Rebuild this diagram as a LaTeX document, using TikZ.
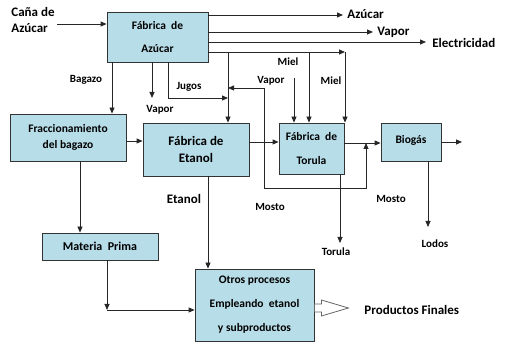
\documentclass[tikz,border=0pt]{standalone}
\usepackage{fontspec}
\setmainfont{Carlito}
\usetikzlibrary{arrows.meta,positioning,calc}
\definecolor{boxblue}{HTML}{B7DDE8}
\tikzset{
  procbox/.style={draw=black!80,fill=boxblue,line width=0.8pt,inner sep=0pt,align=center},
  boxtext/.style={font=\bfseries\fontsize{11.5}{#1}\selectfont},
  flowlabel/.style={font=\bfseries\fontsize{11}{13}\selectfont,inner sep=0pt},
  biglabel/.style={font=\bfseries\fontsize{13}{16}\selectfont,inner sep=0pt},
  hollowarrow/.style={draw=black!60,fill=white,line width=0.8pt},
}

\begin{document}
\begin{tikzpicture}[x=1pt,y=-1pt,->,>={Triangle[length=6pt,width=5pt]},line width=0.8pt,draw=black!85]

\useasboundingbox (0,0) rectangle (509,347);

% process boxes
\node[procbox,boxtext=23,minimum width=101pt,minimum height=50pt] (azucar) at (157.5,37) {Fábrica\ \ de\\Azúcar};
\node[procbox,boxtext=16,minimum width=116pt,minimum height=47pt] (fracc) at (68,137.5) {Fraccionamiento\\del bagazo};
\node[procbox,font=\bfseries\fontsize{13}{17}\selectfont,minimum width=106pt,minimum height=53pt] (etanol) at (196,149.5) {Fábrica de\\Etanol};
\node[procbox,boxtext=24,minimum width=65pt,minimum height=51pt] (torula) at (311.5,148.5) {Fábrica\ \ de\\Torula};
\node[procbox,boxtext=14,minimum width=60pt,minimum height=38pt] (biogas) at (411,142) {\raisebox{5pt}{Biogás}};
\node[procbox,font=\bfseries\fontsize{12}{14}\selectfont,minimum width=116pt,minimum height=27pt] (materia) at (100,246.5) {Materia\ \ Prima};
\node[procbox,boxtext=24,minimum width=119pt,minimum height=72pt] (otros) at (254.5,305) {Otros procesos\\Empleando\ \ etanol\\y subproductos};

% labels
\node[biglabel,anchor=west,align=left] (cana) at (11,20) {Caña de\\Azúcar};
\node[biglabel,anchor=west] (azLbl) at (347,14) {Azúcar};
\node[biglabel,anchor=west] (vapLbl) at (377,32) {Vapor};
\node[biglabel,anchor=west] (elLbl) at (432,43) {Electricidad};
\node[flowlabel] (bagLbl) at (86,80) {Bagazo};
\node[flowlabel] (vapBLbl) at (160,110) {Vapor};
\node[flowlabel] (jugLbl) at (189,87) {Jugos};
\node[flowlabel] (miel1Lbl) at (288,62) {Miel};
\node[flowlabel] (vapTLbl) at (271,81) {Vapor};
\node[flowlabel] (miel2Lbl) at (331,81) {Miel};
\node[biglabel] (etLbl) at (184,199) {Etanol};
\node[flowlabel] (mosto1Lbl) at (270,207) {Mosto};
\node[flowlabel] (mosto2Lbl) at (391,199) {Mosto};
\node[flowlabel] (torLbl) at (336,252) {Torula};
\node[flowlabel] (lodLbl) at (435,244) {Lodos};
\node[biglabel,anchor=west] (pfLbl) at (364,310) {Productos Finales};

% junctions and free ends
\coordinate (canaEnd) at (57,24);
\coordinate (outAz) at (343,15);
\coordinate (outVa) at (373,32);
\coordinate (outEl) at (426,42);
\coordinate (mielR) at (345,52);
\coordinate (mielL) at (309,52);
\coordinate (vapT) at (294,78);
\coordinate (jct) at (228,52);
\coordinate (jugos) at (168,98);
\coordinate (vapB) at (152,98);
\coordinate (bagx) at (112,90);
\coordinate (mostoL) at (264,88);
\coordinate (mostoB) at (264,188);
\coordinate (mostoR) at (366,188);
\coordinate (bioOut) at (462,142);
\coordinate (lodosC) at (428,227);
\coordinate (torC) at (340,243);
\coordinate (etx) at (208,220);
\coordinate (fx) at (80,200);
\coordinate (mpc) at (107,310);
\coordinate (fePt) at ([yshift=-3.5pt]fracc.east);
\coordinate (etPt) at ([yshift=7.5pt]etanol.east);
\coordinate (tbLine) at ([yshift=5.5pt]torula.east);
\coordinate (pfA) at ([yshift=-3pt]otros.east);

% sugar mill
\draw (canaEnd) -- (canaEnd -| azucar.west);
\draw (outAz -| azucar.east) -- (outAz);
\draw (outVa -| azucar.east) -- (outVa);
\draw (outEl -| azucar.east) -- (outEl);
\draw (mielR -| azucar.east) -- (mielR);
\draw (mielR) -- (mielR |- torula.north);
\draw (mielL) -- (mielL |- torula.north);
\draw (vapT) -- (vapT |- torula.north);
\draw (jct) -- (jct |- etanol.north);
\draw (jugos |- azucar.south) -- (jugos) -- (jugos -| jct);
\draw (vapB |- azucar.south) -- (vapB);
\draw (bagx |- azucar.south) -- (bagx |- fracc.north);

% main line
\draw (fePt) -- (fePt -| etanol.west);
\draw (etPt) -- (etPt -| torula.west);
\draw (tbLine) -- (tbLine -| biogas.west);
\draw (biogas.east |- bioOut) -- (bioOut);
\draw[<->] (mostoL -| jct) -- (mostoL) -- (mostoB) -- (mostoR) -- (tbLine -| mostoR);
\draw (lodosC |- biogas.south) -- (lodosC);
\draw (torC |- torula.south) -- (torC);
\draw (etx |- etanol.south) -- (etx |- otros.north);
\draw (fx |- fracc.south) -- (fx |- materia.north);
\draw (mpc |- materia.south) -- (mpc);
\draw (mpc) -- (mpc -| otros.west);

% final products
\draw[hollowarrow,-] ([yshift=4pt]pfA) -- ++(7,0) -- ++(0,-4) -- ++(27,8) -- ++(-27,8) -- ++(0,-4) -- ++(-7,0) -- cycle;

\end{tikzpicture}
\end{document}
